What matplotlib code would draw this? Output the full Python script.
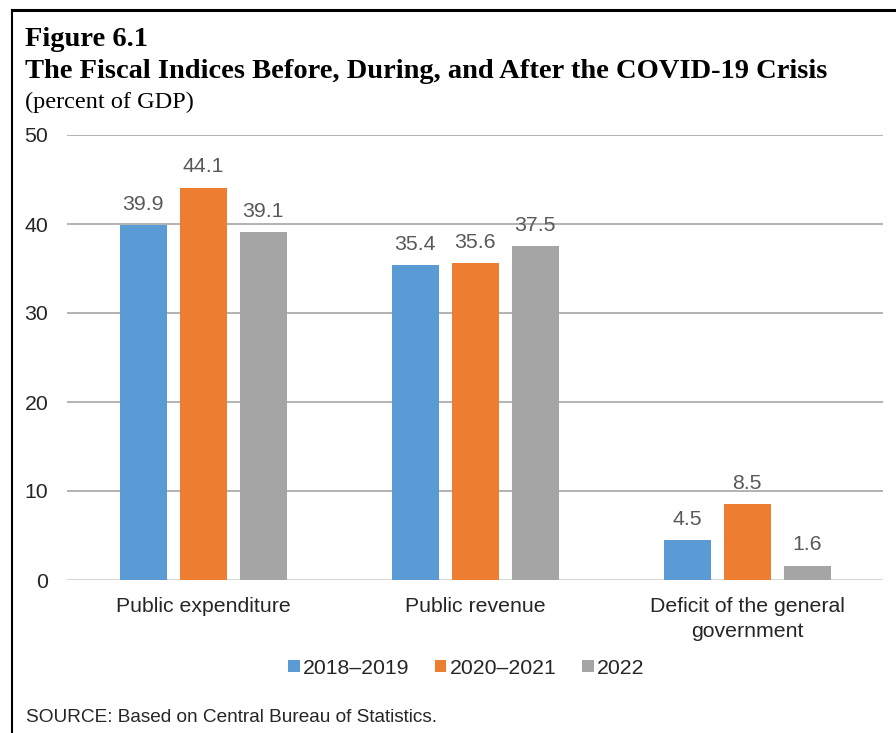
import matplotlib
matplotlib.use("Agg")
import matplotlib.pyplot as plt
import numpy as np

categories = ["Public expenditure", "Public revenue", "Deficit of the general\ngovernment"]
series = ["2018\u20132019", "2020\u20132021", "2022"]
v_2018_2019 = [39.9, 35.4, 4.5]
v_2020_2021 = [44.1, 35.6, 8.5]
v_2022 = [39.1, 37.5, 1.6]
yticks = [0, 10, 20, 30, 40, 50]

colors = ["#5b9bd5", "#ed7d31", "#a5a5a5"]
values = [v_2018_2019, v_2020_2021, v_2022]

plt.rcParams["font.family"] = ["Liberation Sans", "DejaVu Sans"]

fig = plt.figure(figsize=(8.96, 7.33), dpi=100)
W, H = 896, 733
ax = fig.add_axes([67 / W, 1 - 580 / H, (883 - 67) / W, (580 - 135) / H])

x = np.arange(len(categories))
w = 47 / 272
step = 60 / 272
for i, (s, vals, c) in enumerate(zip(series, values, colors)):
    pos = x + (i - 1) * step
    bars = ax.bar(pos, vals, w, color=c, label=s, zorder=3)
    for b, v in zip(bars, vals):
        ax.annotate(f"{v:.1f}", (b.get_x() + b.get_width() / 2, v), xytext=(0, 11),
                    textcoords="offset points", ha="center", va="baseline",
                    fontsize=15.3, color="#595959")

ax.set_xlim(-0.5, 2.5)
ax.set_ylim(0, 50)
ax.set_yticks(yticks)
ax.set_xticks(x)
ax.set_xticklabels(categories, fontsize=15.3, color="#262626", linespacing=1.38)
ax.tick_params(axis="y", labelsize=15.3, labelcolor="#262626", length=0, pad=13.5)
ax.tick_params(axis="x", length=0, pad=12.5)
ax.grid(axis="y", color="#acacac", linewidth=1.3, zorder=0)
for sp in ax.spines.values():
    sp.set_visible(False)
ax.axhline(0, color="#d9d9d9", linewidth=1.3, zorder=2)

leg = fig.legend(loc="center", bbox_to_anchor=(466 / W, 1 - 668 / H), ncol=3, frameon=False,
                 fontsize=15.3, handlelength=0.55, handleheight=0.55, handletextpad=0.15,
                 columnspacing=1.2)
for t in leg.get_texts():
    t.set_color("#262626")

fig.text(25 / W, 1 - 39 / H, "Figure 6.1", family="Liberation Serif", fontweight="bold", fontsize=20.5, va="center")
fig.text(25 / W, 1 - 72 / H, "The Fiscal Indices Before, During, and After the COVID-19 Crisis",
         family="Liberation Serif", fontweight="bold", fontsize=20.5, va="center")
fig.text(25 / W, 1 - 102 / H, "(percent of GDP)", family="Liberation Serif", fontsize=17.5, va="center")
fig.text(26 / W, 1 - 718 / H, "SOURCE: Based on Central Bureau of Statistics.", fontsize=13.7, va="center",
         color="#262626")

fig.add_artist(plt.Line2D([12 / W, 1], [1 - 10 / H, 1 - 10 / H], color="black", linewidth=2.2,
                          transform=fig.transFigure))
fig.add_artist(plt.Line2D([12 / W, 12 / W], [1 - 10 / H, 0], color="black", linewidth=1.5,
                          transform=fig.transFigure))

fig.savefig("out.png", dpi=100)
